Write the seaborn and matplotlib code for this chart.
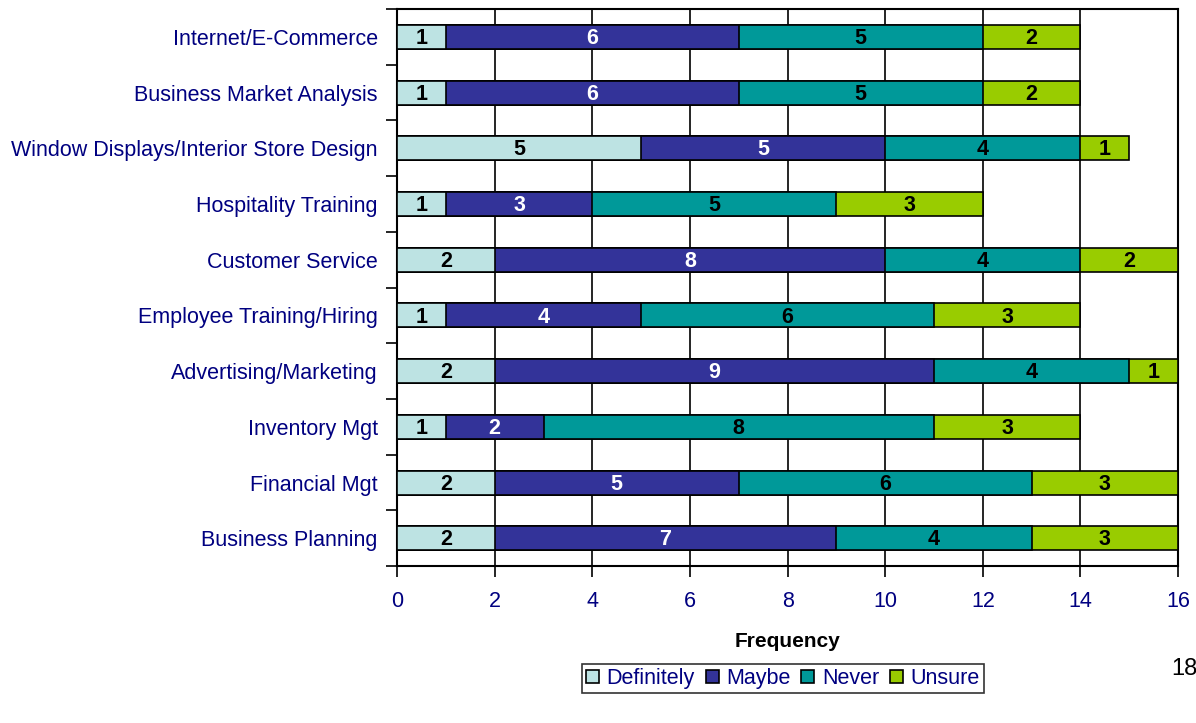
import matplotlib
matplotlib.use("Agg")
import matplotlib.pyplot as plt
import numpy as np
import pandas as pd
import seaborn as sns
from matplotlib.patches import Patch
from matplotlib.ticker import FixedLocator

categories = [
    "Internet/E-Commerce",
    "Business Market Analysis",
    "Window Displays/Interior Store Design",
    "Hospitality Training",
    "Customer Service",
    "Employee Training/Hiring",
    "Advertising/Marketing",
    "Inventory Mgt",
    "Financial Mgt",
    "Business Planning",
]
definitely = [1, 1, 5, 1, 2, 1, 2, 1, 2, 2]
maybe = [6, 6, 5, 3, 8, 4, 9, 2, 5, 7]
never = [5, 5, 4, 5, 4, 6, 4, 8, 6, 4]
unsure = [2, 2, 1, 3, 2, 3, 1, 3, 3, 3]

series_names = ["Definitely", "Maybe", "Never", "Unsure"]
series_colors = ["#BDE3E3", "#333399", "#009999", "#99CC00"]
label_colors = ["black", "white", "black", "black"]
navy = "#000080"

sns.set_theme(style="white")
plt.rcParams["font.family"] = ["Liberation Sans", "DejaVu Sans"]

values = np.array([definitely, maybe, never, unsure], dtype=float)
cum = np.cumsum(values, axis=0)
starts = cum - values

fig = plt.figure(figsize=(11.96, 7.23), dpi=100)
ax = fig.add_axes([0.332, 0.217, 0.653, 0.7706])

# stacked bars: draw the running totals from the outermost segment inward
for i in range(len(series_names) - 1, -1, -1):
    df = pd.DataFrame({"cat": categories, "val": cum[i]})
    sns.barplot(data=df, x="val", y="cat", order=categories, orient="h",
                color=series_colors[i], saturation=1, width=0.43,
                edgecolor="black", linewidth=1.2, ax=ax, zorder=3)

# segment value labels
for i in range(len(series_names)):
    for j, cat in enumerate(categories):
        v = values[i, j]
        if v > 0:
            ax.text(starts[i, j] + v / 2, j + 0.03, f"{int(v)}", ha="center",
                    va="center", fontsize=15.5, fontweight="bold",
                    color=label_colors[i], zorder=5)

ax.set_xlim(0, 16)
ax.set_ylim(len(categories) - 0.5, -0.5)
ax.set_xticks(np.arange(0, 17, 2))
ax.xaxis.grid(True, color="black", linewidth=1.2, zorder=0)
ax.set_axisbelow(True)

ax.tick_params(axis="x", which="major", direction="out", length=8, width=1.2,
               color="black", labelcolor=navy, labelsize=15.5, pad=10, bottom=True)
ax.tick_params(axis="y", which="major", length=0, labelcolor=navy, labelsize=15.5, pad=14)
ax.yaxis.set_minor_locator(FixedLocator(np.arange(-0.5, len(categories), 1.0)))
ax.tick_params(axis="y", which="minor", direction="out", length=8, width=1.2,
               color="black", left=True)

for s in ax.spines.values():
    s.set_color("black")
    s.set_linewidth(1.5)
    s.set_visible(True)

ax.set_ylabel("")
ax.set_xlabel("Frequency", fontsize=15, fontweight="bold", color="black", labelpad=14)

handles = [Patch(facecolor=c, edgecolor="black", linewidth=1.2) for c in series_colors]
leg = fig.legend(handles, series_names, loc="center", bbox_to_anchor=(0.6546, 0.0615),
                 ncol=4, frameon=True, fancybox=False, fontsize=15.5,
                 handlelength=0.6, handleheight=0.6, handletextpad=0.35,
                 columnspacing=0.5, borderpad=0.2, borderaxespad=0)
leg.get_frame().set_edgecolor("black")
leg.get_frame().set_linewidth(1.2)
for t in leg.get_texts():
    t.set_color(navy)

fig.text(1171 / 1196, 1 - 669 / 723, "18", fontsize=17, color="black",
         ha="left", va="center")

fig.savefig("out.png", dpi=100, facecolor="white")
